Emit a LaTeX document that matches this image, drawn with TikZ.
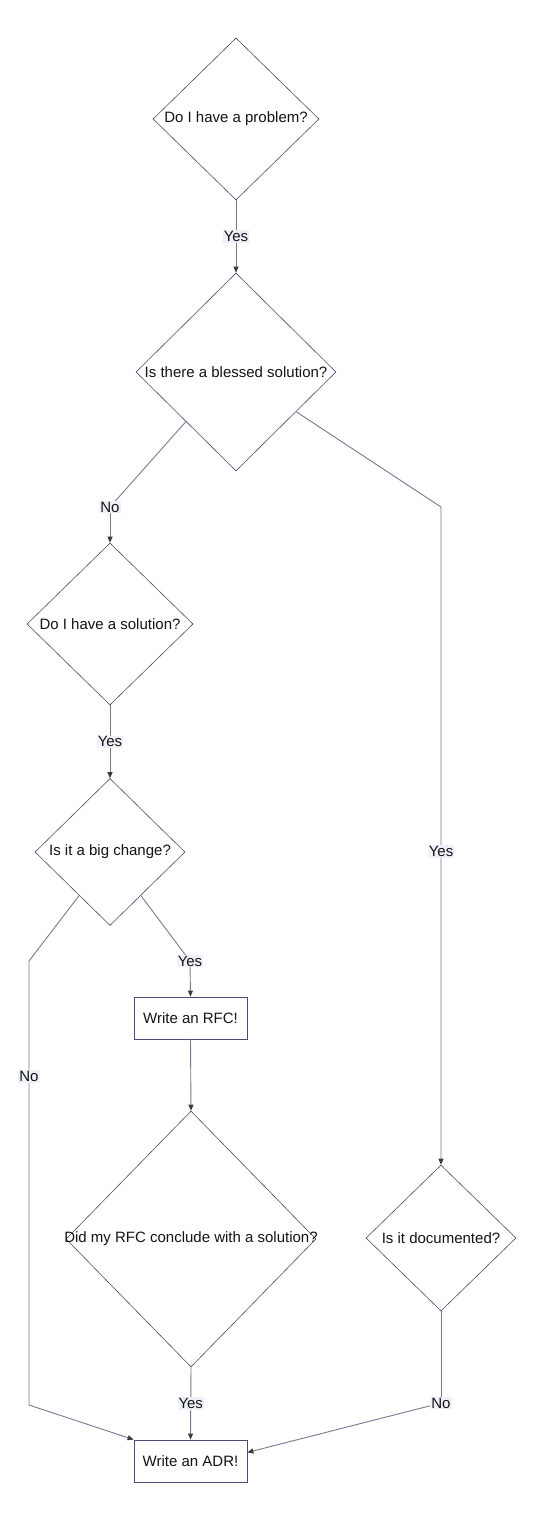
\documentclass[tikz,border=0pt]{standalone}
\usepackage{fontspec}
\setmainfont{Liberation Sans}
\usetikzlibrary{shapes.geometric,arrows.meta,calc}
\definecolor{diastroke}{RGB}{75,75,115}
\definecolor{edgecol}{RGB}{120,120,150}
\definecolor{lblbg}{RGB}{238,242,248}
\definecolor{txt}{RGB}{20,20,20}
\definecolor{tipcol}{RGB}{60,60,60}
\begin{document}
\begin{tikzpicture}[x=1pt,y=-1pt,
  every node/.style={font=\fontsize{15}{18}\selectfont, text=txt},
  dia/.style={draw=diastroke, line width=0.6pt, shape=diamond, inner sep=0pt, fill=white},
  boxnode/.style={draw=diastroke, line width=0.8pt, fill=white, minimum width=113pt, minimum height=42pt, inner sep=0pt},
  conn/.style={draw=edgecol, line width=0.9pt},
  arr/.style={conn, -{Stealth[length=6pt,width=5pt,inset=0pt,color=tipcol]}},
  lbl/.style={fill=lblbg, inner sep=1pt}
]
\useasboundingbox (0,0) rectangle (553,1537);
\fill[white] (0,0) rectangle (553,1537);

% diamonds
\node[dia, minimum width=166pt, minimum height=162pt] (d1) at (236,119) {};
\node (t1) at (d1) {Do I have a problem?};
\node[dia, minimum width=200pt, minimum height=198pt] (d2) at (236,372) {};
\node (t2) at (d2) {Is there a blessed solution?};
\node[dia, minimum width=166pt, minimum height=162pt] (d3) at (110,624) {};
\node (t3) at (d3) {Do I have a solution?};
\node[dia, minimum width=150pt, minimum height=147pt] (d4) at (110,852) {};
\node (t4) at (d4) {Is it a big change?};
\node[boxnode] (rfc) at (190.5,1018) {Write an RFC!};
\node[dia, minimum width=250pt, minimum height=256pt] (d5) at (191,1239) {};
\node (t5) at (d5) {Did my RFC conclude with a solution?};
\node[dia, minimum width=150pt, minimum height=146pt] (d6) at (441,1238) {};
\node (t6) at (d6) {Is it documented?};
\node[boxnode] (adr) at (190.5,1461) {Write an ADR!};

% bend coordinates
\coordinate (c23) at (110,507);
\coordinate (c26) at (441,507);
\coordinate (c4l) at (29,961);
\coordinate (c4lb) at (29,1405);
\coordinate (c4r) at (190,961);
\coordinate (c6) at (441,1403);

% connectors
\draw[arr] (d1.south) -- node[lbl]{Yes} (d2.north);
\draw[conn] (d2.south west) -- (c23);
\draw[arr] (c23) -- (d3.north);
\node[lbl] (l23) at (c23) {No};
\draw[arr] ($(d2.east)!0.4!(d2.south)$) -- (c26) -- node[lbl, pos=0.524]{Yes} (d6.north);
\draw[arr] (d3.south) -- node[lbl]{Yes} (d4.north);
\draw[arr] ($(d4.west)!0.59!(d4.south)$) -- (c4l) -- node[lbl, pos=0.26]{No} (c4lb) -- (adr.north west);
\draw[conn] ($(d4.east)!0.59!(d4.south)$) -- (c4r);
\draw[arr] (c4r) -- (rfc.north);
\node[lbl] (l4r) at (c4r) {Yes};
\draw[arr] (rfc.south) -- (d5.north);
\draw[arr] (d5.south) -- node[lbl]{Yes} (adr.north);
\draw[conn] (d6.south) -- (c6);
\draw[arr] (c6) -- ($(adr.north east)!0.3!(adr.south east)$);
\node[lbl] (l6) at (c6) {No};
\end{tikzpicture}
\end{document}
